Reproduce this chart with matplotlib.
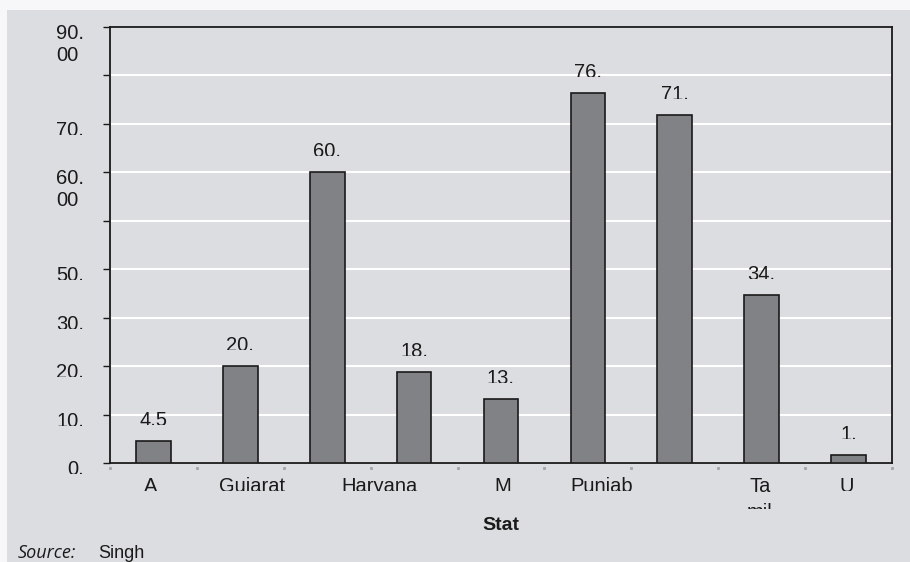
import matplotlib.pyplot as plt
from matplotlib.patches import Rectangle
from matplotlib.transforms import Bbox, offset_copy

# state shares (%) and the labels as they appear on the chart
values = [4.5, 20.1, 60.1, 18.8, 13.2, 76.4, 71.9, 34.6, 1.6]
value_labels = ["4.5", "20.", "60.", "18.", "13.", "76.", "71.", "34.", "1."]
state_labels = ["A", "Gujarat", "Haryana", "", "M", "Punjab", "", "Ta\nmil", "U"]
label_shift = [-0.03, 0.14, 0.6, 0, 0.02, 0.16, 0, -0.02, -0.02]
ytick_vals = [0, 10, 20, 30, 40, 50, 60, 70, 80, 90]
ytick_labels = ["0.", "10.", "20.", "30.", "50.", "", "60.\n00", "70.", "", "90.\n00"]

W, H = 910, 562
BG = "#dcdde0"
FONT = "Liberation Sans"

fig = plt.figure(figsize=(W / 100, H / 100), dpi=100, facecolor="#f7f7f9")
fig.patches.append(Rectangle((7 / W, 0), 1, 552 / H, transform=fig.transFigure,
                             facecolor=BG, edgecolor="none", zorder=-1))

ax = fig.add_axes([110 / W, (H - 463) / H, 782 / W, 436 / H])
ax.set_facecolor(BG)
x = list(range(len(values)))
ax.bar(x, values, width=0.4, color="#818286", edgecolor="#1a1a1a", linewidth=1.2, zorder=3)
ax.set_xlim(-0.5, len(values) - 0.5)
ax.set_ylim(0, 90)

for s in ax.spines.values():
    s.set_color("#1a1a1a")
    s.set_linewidth(1.3)

ax.set_yticks(ytick_vals)
ax.set_yticklabels([])
ax.tick_params(axis="y", direction="out", length=5, width=1, color="#1a1a1a")
ax.set_xticks([])
ax.yaxis.grid(True, color="white", linewidth=1.5)
ax.set_axisbelow(True)


def clip_below(t, y_img):
    # hide whatever falls below row y_img (image pixels, from the top)
    t.set_clip_path(None)
    t.set_clip_box(Bbox.from_extents(0, H - y_img, W, H))
    t.set_clip_on(True)


def to_img_y(v):
    return H - ax.transData.transform((0, v))[1]


# y tick labels
ylab_tr = offset_copy(ax.get_yaxis_transform(), fig=fig, x=-26, y=3, units="dots")
for v, lab in zip(ytick_vals, ytick_labels):
    if not lab:
        continue
    t = ax.text(0, v, lab, transform=ylab_tr, ha="right", va="top", multialignment="left",
                fontsize=14.5, family=FONT, color="#1a1a1a", linespacing=1.2)
    if "\n" not in lab:
        clip_below(t, round(to_img_y(v)) + 11)

# value labels above the bars
val_tr = offset_copy(ax.transData, fig=fig, y=15, units="dots")
for xi, v, lab in zip(x, values, value_labels):
    t = ax.text(xi, v, lab, transform=val_tr, ha="center", va="baseline",
                fontsize=14.5, family=FONT, color="#1a1a1a")
    clip_below(t, to_img_y(v) - 16)

# category labels
for xi, lab, dx in zip(x, state_labels, label_shift):
    if not lab:
        continue
    t = ax.text(xi + dx, 0, lab, transform=offset_copy(ax.transData, fig=fig, y=-14, units="dots"),
                ha="center", va="top", fontsize=14.5, family=FONT, color="#1a1a1a", linespacing=1.5)
    clip_below(t, 509 if "\n" in lab else 491)

# small marks at the category boundaries
bounds = [i - 0.5 for i in range(len(values) + 1)]
ax.plot(bounds, [0] * len(bounds), ls="none", marker="s", ms=1.2, color="#a8a8a8", clip_on=False,
        transform=offset_copy(ax.transData, fig=fig, y=-5, units="dots"))

fig.text(501 / W, (H - 517) / H, "Stat", ha="center", va="top", fontsize=14,
         fontweight="bold", family=FONT, color="#1a1a1a")
fig.text(18 / W, (H - 544) / H, "Source:", ha="left", va="top", fontsize=13,
         style="italic", family="Open Sans", color="#1a1a1a")
fig.text(98 / W, (H - 545) / H, "Singh", ha="left", va="top", fontsize=13,
         family=FONT, color="#1a1a1a")

fig.savefig("out.png", dpi=100, facecolor=fig.get_facecolor())
